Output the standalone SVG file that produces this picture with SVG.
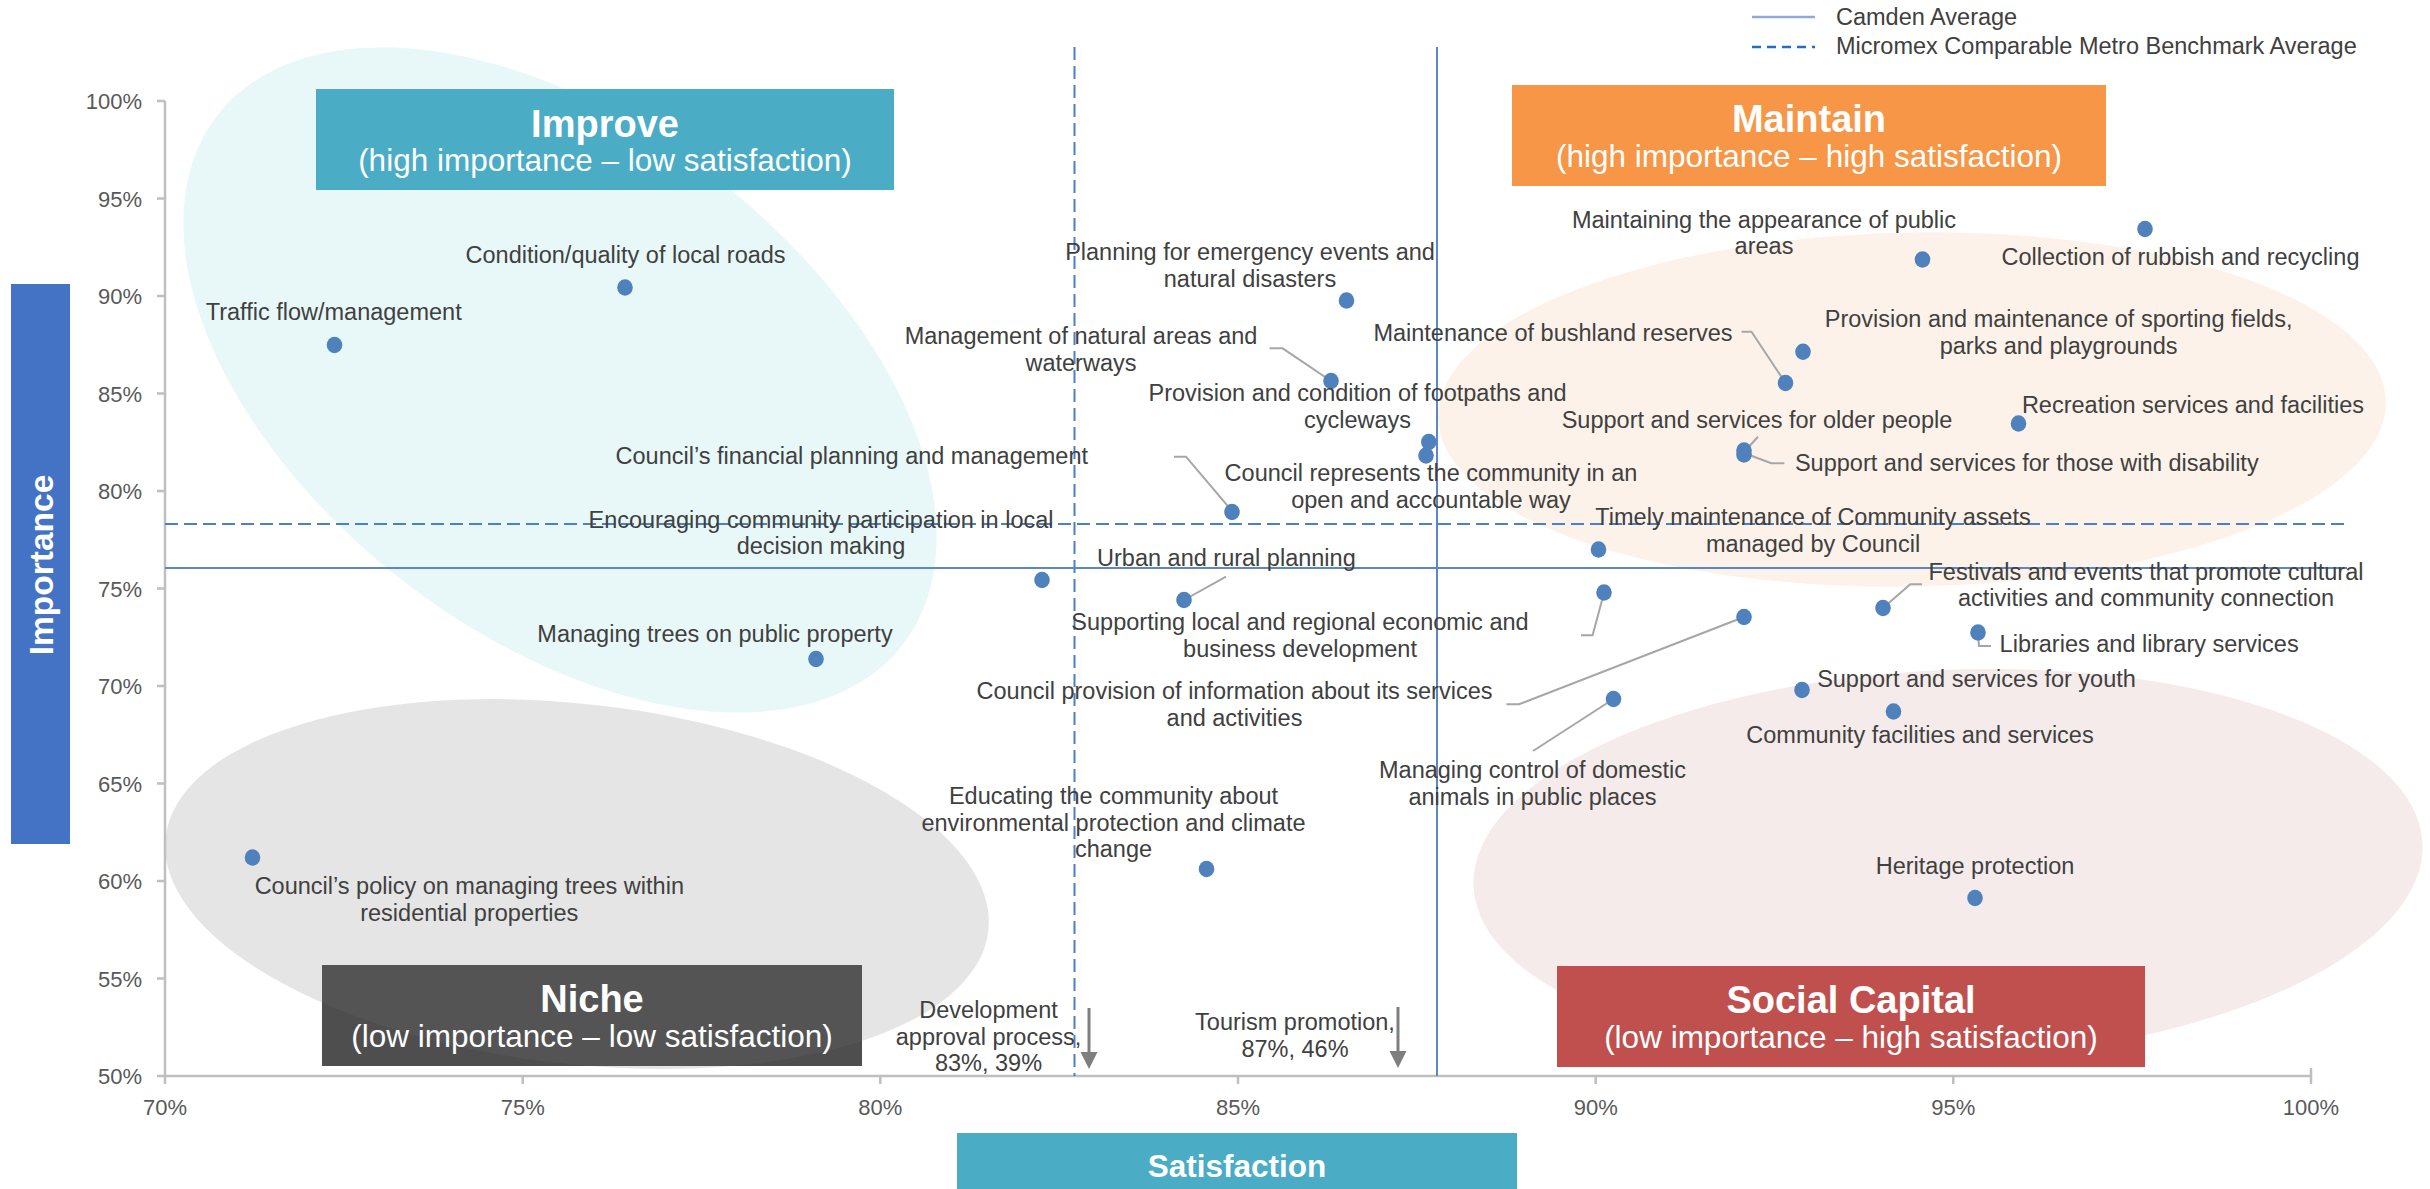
<svg xmlns="http://www.w3.org/2000/svg" width="2430" height="1189" viewBox="0 0 2430 1189">
<defs>
<style>
text{font-family:'Liberation Sans',Arial,sans-serif}
.lbl{font-size:23.5px;fill:#404040;text-anchor:middle}
.lbs{font-size:23.5px;fill:#404040}
.tk{font-size:22px;fill:#595959}
.tky{text-anchor:end}
.tkx{text-anchor:middle}
.ttl{font-size:38px;font-weight:bold;fill:#fff;text-anchor:middle}
.sub{font-size:31.5px;fill:#fff;text-anchor:middle}
.dot{fill:#4f81bd}
.lead{stroke:#a6a6a6;stroke-width:2;fill:none}
.arr{stroke:#7f7f7f;stroke-width:3;fill:none}
.arrh{fill:#7f7f7f}
.axis{stroke:#bfbfbf;stroke-width:2.5;fill:none}
.avg{stroke:#5b87c8;stroke-width:2;fill:none}
.bench{stroke:#4a80c6;stroke-width:2;stroke-dasharray:13 6;fill:none}
</style>
</defs>
<rect width="2430" height="1189" fill="#ffffff"/>

<g id="regions">
<ellipse id="region-improve" cx="560" cy="380" rx="433" ry="255" transform="rotate(37.6 560 380)" fill="#e8f8f8"/>
<ellipse id="region-maintain" cx="1912" cy="409.5" rx="474" ry="177" transform="rotate(-1 1912 409.5)" fill="#fdf2e9"/>
<ellipse id="region-social" cx="1948" cy="865" rx="475" ry="195" transform="rotate(-2.6 1948 865)" fill="#f6ebeb"/>
</g>

<g id="quadrant-boxes">
<rect id="box-improve" x="316" y="89" width="578" height="101" fill="#4bacc6"/>
<rect id="box-maintain" x="1512" y="85" width="594" height="101" fill="#f79646"/>
<rect id="box-niche" x="322" y="965" width="540" height="101" fill="#4e4e4e"/>
<rect id="box-social" x="1557" y="966" width="588" height="101" fill="#c0504d"/>
</g>

<ellipse id="region-niche" cx="577" cy="884" rx="414" ry="180" transform="rotate(6.5 577 884)" fill="#707070" fill-opacity="0.185"/>

<g id="axes">
<path class="axis" d="M165,101V1076H2311"/>
<path class="axis" d="M157,101H165M157,198.5H165M157,296H165M157,393.5H165M157,491H165M157,588.5H165M157,686H165M157,783.5H165M157,881H165M157,978.5H165M157,1076H165"/>
<path class="axis" d="M165,1076V1084M522.7,1076V1084M880.3,1076V1084M1238,1076V1084M1595.7,1076V1084M1953.3,1076V1084M2311,1068V1084"/>
<g class="tk tky">
<text x="142" y="109">100%</text>
<text x="142" y="206.5">95%</text>
<text x="142" y="304">90%</text>
<text x="142" y="401.5">85%</text>
<text x="142" y="499">80%</text>
<text x="142" y="596.5">75%</text>
<text x="142" y="694">70%</text>
<text x="142" y="791.5">65%</text>
<text x="142" y="889">60%</text>
<text x="142" y="986.5">55%</text>
<text x="142" y="1084">50%</text>
</g>
<g class="tk tkx">
<text x="165" y="1115">70%</text>
<text x="522.7" y="1115">75%</text>
<text x="880.3" y="1115">80%</text>
<text x="1238" y="1115">85%</text>
<text x="1595.7" y="1115">90%</text>
<text x="1953.3" y="1115">95%</text>
<text x="2311" y="1115">100%</text>
</g>
</g>

<g id="average-lines">
<path class="bench" d="M1074.5,47V1076"/>
<path class="bench" d="M165,524H2347"/>
<path class="avg" d="M1437,47V1076"/>
<path class="avg" d="M165,568H2347"/>
</g>

<g id="legend">
<path d="M1752,17H1815" stroke="#8eaadb" stroke-width="2.5"/>
<text class="lbs" x="1836" y="24.5">Camden Average</text>
<path d="M1752,47H1815" stroke="#1f6fc4" stroke-width="2.5" stroke-dasharray="9 6"/>
<text class="lbs" x="1836" y="54">Micromex Comparable Metro Benchmark Average</text>
</g>

<g id="axis-titles">
<g id="importance-title">
<rect x="11" y="284" width="59" height="560" fill="#4472c4"/>
<text transform="translate(53,565) rotate(-90)" text-anchor="middle" font-size="33.5" font-weight="bold" fill="#fff">Importance</text>
</g>
<g id="satisfaction-title">
<rect x="957" y="1133" width="560" height="56" fill="#4bacc6"/>
<text x="1237" y="1177" text-anchor="middle" font-size="31.5" font-weight="bold" fill="#fff">Satisfaction</text>
</g>
</g>

<g id="connectors">
<polyline class="lead" points="1269.7,348.3 1282.6,348.3 1331,381"/>
<polyline class="lead" points="1174,456.7 1186,456.7 1232,511"/>
<polyline class="lead" points="1226,576.7 1184,600"/>
<polyline class="lead" points="1581,635.3 1592.6,635.3 1604,593"/>
<polyline class="lead" points="1506.4,704.3 1519,704.3 1744,617"/>
<polyline class="lead" points="1533,751 1613.5,699"/>
<polyline class="lead" points="1922,584.3 1910.3,584.3 1883,608"/>
<polyline class="lead" points="1991,646 1979,646 1978,632.5"/>
<polyline class="lead" points="1784.4,463.3 1771.2,463.3 1744,453"/>
<polyline class="lead" points="1758,436.7 1744,452"/>
<polyline class="lead" points="1741.6,331.7 1751.5,331.7 1785.5,383"/>
<path class="arr" d="M1089,1008V1055"/>
<polygon class="arrh" points="1080.5,1052 1097.5,1052 1089,1069"/>
<path class="arr" d="M1398,1007V1054"/>
<polygon class="arrh" points="1389.5,1051 1406.5,1051 1398,1068"/>
</g>

<g id="quadrant-labels">
<g id="label-improve"><text class="ttl" x="605" y="136.5">Improve</text><text class="sub" x="605" y="171">(high importance – low satisfaction)</text></g>
<g id="label-maintain"><text class="ttl" x="1809" y="131.5">Maintain</text><text class="sub" x="1809" y="166.5">(high importance – high satisfaction)</text></g>
<g id="label-niche"><text class="ttl" x="592" y="1011.5">Niche</text><text class="sub" x="592" y="1046.5">(low importance – low satisfaction)</text></g>
<g id="label-social"><text class="ttl" x="1851" y="1013">Social Capital</text><text class="sub" x="1851" y="1048">(low importance – high satisfaction)</text></g>
</g>

<g id="points">
<g id="p-traffic"><ellipse class="dot" cx="334.5" cy="345" rx="7.8" ry="8.2"/><text class="lbl" x="333.7" y="320">Traffic flow/management</text></g>
<g id="p-roads"><ellipse class="dot" cx="625" cy="287.5" rx="7.8" ry="8.2"/><text class="lbl" x="625.6" y="263">Condition/quality of local roads</text></g>
<g id="p-emergency"><ellipse class="dot" cx="1346.5" cy="300.5" rx="7.8" ry="8.2"/><text class="lbl" x="1250" y="260">Planning for emergency events and</text><text class="lbl" x="1250" y="286.5">natural disasters</text></g>
<g id="p-natural"><ellipse class="dot" cx="1331" cy="381" rx="7.8" ry="8.2"/><text class="lbl" x="1081" y="344">Management of natural areas and</text><text class="lbl" x="1081" y="370.5">waterways</text></g>
<g id="p-footpaths"><ellipse class="dot" cx="1428.8" cy="442" rx="7.8" ry="8.2"/><text class="lbl" x="1357.5" y="401">Provision and condition of footpaths and</text><text class="lbl" x="1357.5" y="428">cycleways</text></g>
<g id="p-represents"><ellipse class="dot" cx="1426" cy="455.5" rx="7.8" ry="8.2"/><text class="lbl" x="1431" y="481">Council represents the community in an</text><text class="lbl" x="1431" y="507.5">open and accountable way</text></g>
<g id="p-financial"><ellipse class="dot" cx="1232" cy="512" rx="7.8" ry="8.2"/><text class="lbl" x="851.8" y="464">Council’s financial planning and management</text></g>
<g id="p-participation"><ellipse class="dot" cx="1042" cy="580" rx="7.8" ry="8.2"/><text class="lbl" x="821" y="527.5">Encouraging community participation in local</text><text class="lbl" x="821" y="554">decision making</text></g>
<g id="p-urban"><ellipse class="dot" cx="1184" cy="600" rx="7.8" ry="8.2"/><text class="lbl" x="1226.4" y="566">Urban and rural planning</text></g>
<g id="p-trees-public"><ellipse class="dot" cx="816" cy="659" rx="7.8" ry="8.2"/><text class="lbl" x="715" y="642">Managing trees on public property</text></g>
<g id="p-timely"><ellipse class="dot" cx="1598.5" cy="549.5" rx="7.8" ry="8.2"/><text class="lbl" x="1813" y="525">Timely maintenance of Community assets</text><text class="lbl" x="1813" y="551.5">managed by Council</text></g>
<g id="p-economic"><ellipse class="dot" cx="1604" cy="592.5" rx="7.8" ry="8.2"/><text class="lbl" x="1300" y="630">Supporting local and regional economic and</text><text class="lbl" x="1300" y="656.5">business development</text></g>
<g id="p-information"><ellipse class="dot" cx="1744" cy="617" rx="7.8" ry="8.2"/><text class="lbl" x="1234.5" y="699">Council provision of information about its services</text><text class="lbl" x="1234.5" y="725.5">and activities</text></g>
<g id="p-animals"><ellipse class="dot" cx="1613.5" cy="699" rx="7.8" ry="8.2"/><text class="lbl" x="1532.5" y="778">Managing control of domestic</text><text class="lbl" x="1532.5" y="804.5">animals in public places</text></g>
<g id="p-youth"><ellipse class="dot" cx="1802" cy="690" rx="7.8" ry="8.2"/><text class="lbl" x="1976.5" y="686.5">Support and services for youth</text></g>
<g id="p-community-facilities"><ellipse class="dot" cx="1893.5" cy="711.5" rx="7.8" ry="8.2"/><text class="lbl" x="1920" y="742.5">Community facilities and services</text></g>
<g id="p-festivals"><ellipse class="dot" cx="1883" cy="608" rx="7.8" ry="8.2"/><text class="lbl" x="2146" y="579.5">Festivals and events that promote cultural</text><text class="lbl" x="2146" y="606">activities and community connection</text></g>
<g id="p-libraries"><ellipse class="dot" cx="1978" cy="632.5" rx="7.8" ry="8.2"/><text class="lbs" x="1999.6" y="652">Libraries and library services</text></g>
<g id="p-heritage"><ellipse class="dot" cx="1975" cy="898" rx="7.8" ry="8.2"/><text class="lbl" x="1975" y="873.5">Heritage protection</text></g>
<g id="p-educating"><ellipse class="dot" cx="1206.5" cy="869" rx="7.8" ry="8.2"/><text class="lbl" x="1113.5" y="804">Educating the community about</text><text class="lbl" x="1113.5" y="830.5">environmental protection and climate</text><text class="lbl" x="1113.5" y="857">change</text></g>
<g id="p-trees-residential"><ellipse class="dot" cx="252.5" cy="857.5" rx="7.8" ry="8.2"/><text class="lbl" x="469.3" y="894">Council’s policy on managing trees within</text><text class="lbl" x="469.3" y="920.5">residential properties</text></g>
<g id="p-appearance"><ellipse class="dot" cx="1922.5" cy="259.5" rx="7.8" ry="8.2"/><text class="lbl" x="1764" y="227.5">Maintaining the appearance of public</text><text class="lbl" x="1764" y="254">areas</text></g>
<g id="p-rubbish"><ellipse class="dot" cx="2145" cy="229" rx="7.8" ry="8.2"/><text class="lbl" x="2180.5" y="265">Collection of rubbish and recycling</text></g>
<g id="p-sporting"><ellipse class="dot" cx="1803" cy="351.7" rx="7.8" ry="8.2"/><text class="lbl" x="2058.6" y="327">Provision and maintenance of sporting fields,</text><text class="lbl" x="2058.6" y="353.5">parks and playgrounds</text></g>
<g id="p-bushland"><ellipse class="dot" cx="1785.5" cy="383" rx="7.8" ry="8.2"/><text class="lbl" x="1553" y="341">Maintenance of bushland reserves</text></g>
<g id="p-recreation"><ellipse class="dot" cx="2018.5" cy="423.5" rx="7.8" ry="8.2"/><text class="lbl" x="2193" y="412.5">Recreation services and facilities</text></g>
<g id="p-older"><ellipse class="dot" cx="1744" cy="450.5" rx="7.8" ry="8.2"/><text class="lbl" x="1757" y="427.5">Support and services for older people</text></g>
<g id="p-disability"><ellipse class="dot" cx="1744" cy="454.5" rx="7.8" ry="8.2"/><text class="lbl" x="2026.8" y="471">Support and services for those with disability</text></g>
<g id="p-development"><text class="lbl" x="988.5" y="1018">Development</text><text class="lbl" x="988.5" y="1044.5">approval process,</text><text class="lbl" x="988.5" y="1071">83%, 39%</text></g>
<g id="p-tourism"><text class="lbl" x="1295" y="1030">Tourism promotion,</text><text class="lbl" x="1295" y="1056.5">87%, 46%</text></g>
</g>
</svg>
